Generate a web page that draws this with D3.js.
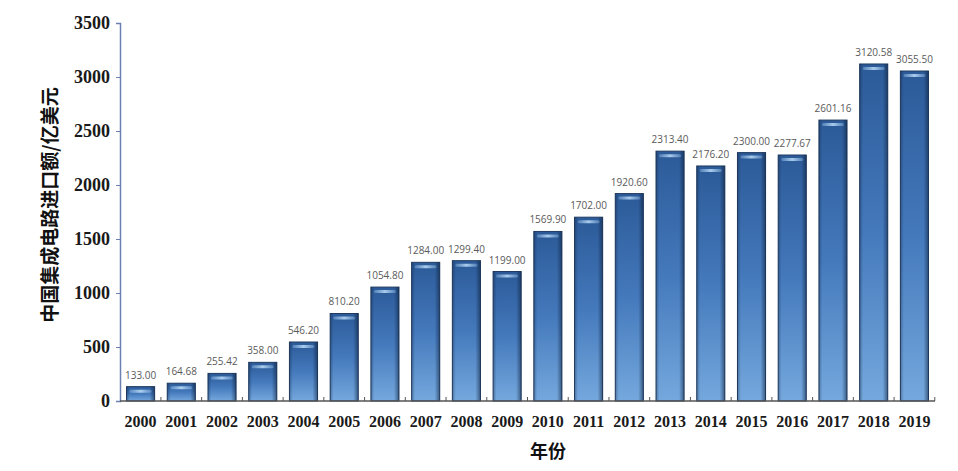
<!DOCTYPE html>
<html><head><meta charset="utf-8">
<script src="https://cdn.jsdelivr.net/npm/d3@7"></script>
<style>body{margin:0;background:#fff}svg{display:block}</style>
</head><body><svg id="c" width="958" height="471"></svg>
<script>
const years = ["2000","2001","2002","2003","2004","2005","2006","2007","2008","2009","2010","2011","2012","2013","2014","2015","2016","2017","2018","2019"];
const values = [133.00,164.68,255.42,358.00,546.20,810.20,1054.80,1284.00,1299.40,1199.00,1569.90,1702.00,1920.60,2313.40,2176.20,2300.00,2277.67,2601.16,3120.58,3055.50];
const yTicks = [0,500,1000,1500,2000,2500,3000,3500];
const yTitle = "中国集成电路进口额/亿美元";
const xTitle = "年份";

const svg = d3.select("#c");
const L=120, R=935, T=23, B=401;
const x = d3.scaleBand().domain(years).range([L,R]).paddingInner(0.31).paddingOuter(0.16);
const y = d3.scaleLinear().domain([0,3500]).range([B,T]);

const defs = svg.append("defs");
const gv = defs.append("linearGradient").attr("id","gv").attr("x1",0).attr("y1",0).attr("x2",0).attr("y2",1);
gv.append("stop").attr("offset","0%").attr("stop-color","#2c5a98");
gv.append("stop").attr("offset","50%").attr("stop-color","#4479bc");
gv.append("stop").attr("offset","100%").attr("stop-color","#75a8dd");
const gh = defs.append("linearGradient").attr("id","gh").attr("x1",0).attr("y1",0).attr("x2",1).attr("y2",0);
gh.append("stop").attr("offset","0%").attr("stop-color","#0c1f3a").attr("stop-opacity",0.35);
gh.append("stop").attr("offset","12%").attr("stop-color","#0c1f3a").attr("stop-opacity",0.0);
gh.append("stop").attr("offset","82%").attr("stop-color","#0c1f3a").attr("stop-opacity",0.0);
gh.append("stop").attr("offset","100%").attr("stop-color","#0c1f3a").attr("stop-opacity",0.55);
const gs = defs.append("linearGradient").attr("id","gs").attr("x1",0).attr("y1",0).attr("x2",1).attr("y2",0);
gs.append("stop").attr("offset","0%").attr("stop-color","#a9d2f5").attr("stop-opacity",0.3);
gs.append("stop").attr("offset","50%").attr("stop-color","#bfe0fb").attr("stop-opacity",0.85);
gs.append("stop").attr("offset","100%").attr("stop-color","#a9d2f5").attr("stop-opacity",0.3);

const bars = svg.append("g").selectAll("g").data(years).join("g");
bars.append("rect")
  .attr("x",d=>x(d)).attr("width",x.bandwidth())
  .attr("y",(d,i)=>y(values[i])).attr("height",(d,i)=>B-y(values[i]))
  .attr("fill","url(#gv)").attr("stroke","#213c62").attr("stroke-width",1);
bars.append("rect")
  .attr("x",d=>x(d)).attr("width",x.bandwidth())
  .attr("y",(d,i)=>y(values[i])).attr("height",(d,i)=>B-y(values[i]))
  .attr("fill","url(#gh)");
bars.append("rect")
  .attr("x",d=>x(d)+3).attr("width",x.bandwidth()-6)
  .attr("y",(d,i)=>y(values[i])+3).attr("height",3)
  .attr("rx",1.5)
  .attr("fill","url(#gs)");
bars.append("text")
  .attr("x",d=>x(d)+x.bandwidth()/2)
  .attr("y",(d,i)=>y(values[i])-8)
  .attr("text-anchor","middle")
  .attr("font-family","Open Sans, Liberation Sans, sans-serif")
  .attr("font-size",10).attr("fill","#5a5a5a")
  .text((d,i)=>values[i].toFixed(2));

// y axis
const ya = svg.append("g").attr("transform",`translate(${L},0)`)
  .call(d3.axisLeft(y).tickValues(yTicks).tickSize(4).tickPadding(6).tickFormat(d3.format("d")));
ya.select(".domain").attr("stroke","#6b7fb5").attr("stroke-width",1.5);
ya.selectAll(".tick line").attr("stroke","#6b7fb5");
ya.selectAll("text").attr("font-family","Liberation Serif, Times New Roman, serif")
  .attr("font-size",18).attr("font-weight","bold").attr("fill","#1a1a1a");

// x axis
svg.append("line").attr("x1",L).attr("x2",R).attr("y1",B).attr("y2",B).attr("stroke","#555").attr("stroke-width",1.5);
const step = x.step();
const bounds = years.map((d,i)=>x(d)+x.bandwidth()+ (step-x.bandwidth())/2);
svg.append("g").selectAll("line").data(bounds).join("line")
  .attr("x1",d=>d).attr("x2",d=>d).attr("y1",B).attr("y2",B-4).attr("stroke","#555");
svg.append("g").selectAll("text").data(years).join("text")
  .attr("x",d=>x(d)+x.bandwidth()/2).attr("y",427)
  .attr("text-anchor","middle")
  .attr("font-family","Liberation Serif, Times New Roman, serif")
  .attr("font-size",16).attr("font-weight","bold").attr("fill","#1a1a1a")
  .text(d=>d);

svg.append("text").attr("x",548).attr("y",458).attr("text-anchor","middle")
  .attr("font-family","Noto Sans CJK SC, sans-serif").attr("font-weight","bold")
  .attr("font-size",18).attr("fill","#111").text(xTitle);
svg.append("text").attr("transform","translate(57,205) rotate(-90)").attr("text-anchor","middle")
  .attr("font-family","Noto Sans CJK SC, sans-serif").attr("font-weight","bold")
  .attr("font-size",19).attr("fill","#111").text(yTitle);
</script></body></html>
